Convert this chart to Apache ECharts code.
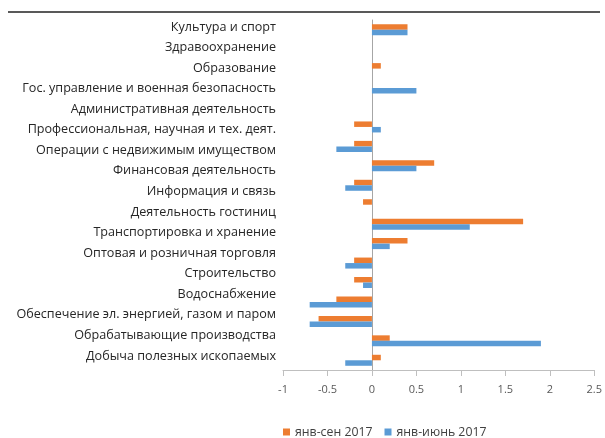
<!DOCTYPE html>
<html><head><meta charset="utf-8">
<script src="https://cdn.jsdelivr.net/npm/echarts@6/dist/echarts.min.js"></script>
<style>html,body{margin:0;padding:0;background:#fff}#c{width:605px;height:438px}</style>
</head><body><div id="c"></div>
<script>
// Category labels as printed (17 lines)
const categories = [
  'Культура и спорт',
  'Здравоохранение',
  'Образование',
  'Гос. управление и военная безопасность',
  'Административная деятельность',
  'Профессиональная, научная и тех. деят.',
  'Операции с недвижимым имуществом',
  'Финансовая деятельность',
  'Информация и связь',
  'Деятельность гостиниц',
  'Транспортировка и хранение',
  'Оптовая и розничная торговля',
  'Строительство',
  'Водоснабжение',
  'Обеспечение эл. энергией, газом и паром',
  'Обрабатывающие производства',
  'Добыча полезных ископаемых'
];
// The bar area holds 18 rows; one row has no printed label
const barRows = [
  'Культура и спорт','Здравоохранение','Образование','Гос. управление и военная безопасность',
  'Административная деятельность','Профессиональная, научная и тех. деят.','Операции с недвижимым имуществом',
  'Финансовая деятельность','Информация и связь','Деятельность гостиниц','Транспортировка и хранение',
  'Оптовая и розничная торговля','(без подписи)','Строительство','Водоснабжение',
  'Обеспечение эл. энергией, газом и паром','Обрабатывающие производства','Добыча полезных ископаемых'
];
const seriesNames = ['янв-сен 2017', 'янв-июнь 2017'];
const sepValues = [0.4, 0, 0.1, 0, 0, -0.2, -0.2, 0.7, -0.2, -0.1, 1.7, 0.4, -0.2, -0.2, -0.4, -0.6, 0.2, 0.1];
const junValues = [0.4, 0, 0, 0.5, 0, 0.1, -0.4, 0.5, -0.3, 0, 1.1, 0.2, -0.3, -0.1, -0.7, -0.7, 1.9, -0.3];
const xMin = -1, xMax = 2.5, xStep = 0.5;

const FONT = '"Open Sans", sans-serif';
const chart = echarts.init(document.getElementById('c'), null, {renderer: 'canvas'});
chart.setOption({
  animation: false,
  textStyle: {fontFamily: FONT},
  color: ['#ED7D31', '#5B9BD5'],
  grid: [
    {left: 283, right: 8, top: 20, bottom: 68, containLabel: false},
    {left: 283, right: 8, top: 16.7, bottom: 71.8, containLabel: false}
  ],
  xAxis: [
    {
      type: 'value', gridIndex: 0, min: xMin, max: xMax, interval: xStep,
      axisLine: {show: true, onZero: false, lineStyle: {color: '#BFBFBF', width: 1}},
      axisTick: {show: true, length: 6, lineStyle: {color: '#BFBFBF'}},
      splitLine: {show: false},
      axisLabel: {color: '#595959', fontSize: 11, margin: 14, fontFamily: FONT,
        formatter: v => String(Math.round(v * 10) / 10)}
    },
    {type: 'value', gridIndex: 1, min: xMin, max: xMax, show: false}
  ],
  yAxis: [
    {
      type: 'category', gridIndex: 0, data: barRows, inverse: true,
      axisLine: {show: true, onZero: true, lineStyle: {color: '#A6A6A6', width: 1}},
      axisTick: {show: false}, axisLabel: {show: false}, splitLine: {show: false}
    },
    {
      type: 'category', gridIndex: 1, data: categories, inverse: true,
      axisLine: {show: false}, axisTick: {show: false}, splitLine: {show: false},
      axisLabel: {show: true, color: '#262626', fontSize: 12.6, margin: 7, fontFamily: FONT}
    }
  ],
  legend: {
    left: 278, top: 421, itemWidth: 7, itemHeight: 7, itemGap: 12, icon: 'rect',
    textStyle: {color: '#404040', fontSize: 12.3, fontFamily: FONT},
    data: seriesNames
  },
  graphic: [
    {type: 'line', shape: {x1: 8, y1: 12, x2: 600, y2: 12}, style: {stroke: '#222', lineWidth: 1.5}, silent: true}
  ],
  series: [
    {name: seriesNames[0], type: 'bar', xAxisIndex: 0, yAxisIndex: 0, data: sepValues, barWidth: 5.5, barGap: '0%'},
    {name: seriesNames[1], type: 'bar', xAxisIndex: 0, yAxisIndex: 0, data: junValues, barWidth: 5.5, barGap: '0%'}
  ]
});
</script></body></html>
